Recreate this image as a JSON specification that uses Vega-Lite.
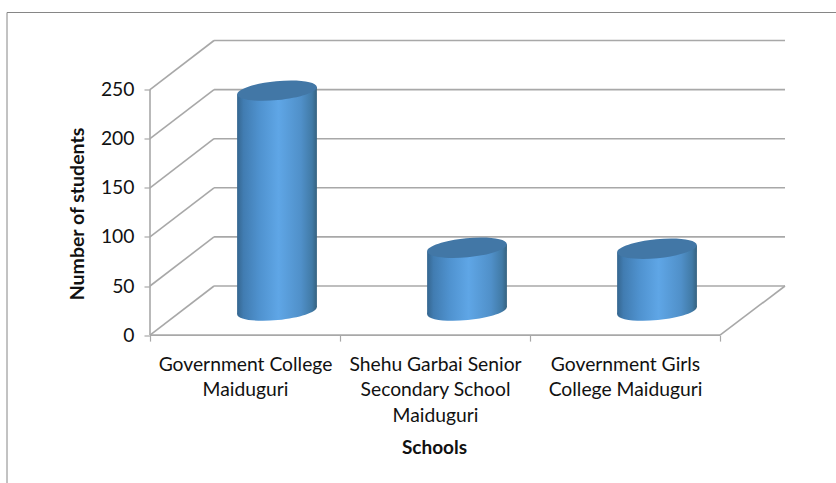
{
  "$schema": "https://vega.github.io/schema/vega-lite/v6.json",
  "width": 635,
  "height": 294.6,
  "autosize": {"type": "none"},
  "padding": {"left": 150, "top": 40.5, "right": 51, "bottom": 147.9},
  "background": "white",
  "config": {"view": {"stroke": null}, "font": "Lato"},
  "datasets": {
    "schools": [
      {"school": "Government College Maiduguri", "slot": 0.5, "students": 224},
      {"school": "Shehu Garbai Senior Secondary School Maiduguri", "slot": 1.5, "students": 64},
      {"school": "Government Girls College Maiduguri", "slot": 2.5, "students": 63}
    ],
    "cylinderSides": [
      {"school": "Government College Maiduguri", "edge": 0.29, "top": 220.4, "base": -3.6},
      {"school": "Government College Maiduguri", "edge": 0.71, "top": 227.6, "base": 3.6},
      {"school": "Shehu Garbai Senior Secondary School Maiduguri", "edge": 1.29, "top": 60.4, "base": -3.6},
      {"school": "Shehu Garbai Senior Secondary School Maiduguri", "edge": 1.71, "top": 67.6, "base": 3.6},
      {"school": "Government Girls College Maiduguri", "edge": 2.29, "top": 59.4, "base": -3.6},
      {"school": "Government Girls College Maiduguri", "edge": 2.71, "top": 66.6, "base": 3.6}
    ],
    "wallLines": [
      {"x": 0, "y": 0, "xEnd": 0.337, "yEnd": 50},
      {"x": 0, "y": 50, "xEnd": 0.337, "yEnd": 100},
      {"x": 0, "y": 100, "xEnd": 0.337, "yEnd": 150},
      {"x": 0, "y": 150, "xEnd": 0.337, "yEnd": 200},
      {"x": 0, "y": 200, "xEnd": 0.337, "yEnd": 250},
      {"x": 0, "y": 250, "xEnd": 0.337, "yEnd": 300},
      {"x": 0.337, "y": 50, "xEnd": 3.342, "yEnd": 50},
      {"x": 0.337, "y": 100, "xEnd": 3.342, "yEnd": 100},
      {"x": 0.337, "y": 150, "xEnd": 3.342, "yEnd": 150},
      {"x": 0.337, "y": 200, "xEnd": 3.342, "yEnd": 200},
      {"x": 0.337, "y": 250, "xEnd": 3.342, "yEnd": 250},
      {"x": 0.337, "y": 300, "xEnd": 3.342, "yEnd": 300},
      {"x": 3, "y": 0, "xEnd": 3.342, "yEnd": 50},
      {"x": 0, "y": 0, "xEnd": 3, "yEnd": 0},
      {"x": 0, "y": 0, "xEnd": 0, "yEnd": 250}
    ],
    "frameLines": [
      {"x": -0.7526, "y": 328.5, "xEnd": -0.7526, "yEnd": -151},
      {"x": -0.7526, "y": 328.5, "xEnd": 3.611, "yEnd": 328.5}
    ]
  },
  "layer": [
    {
      "data": {"name": "frameLines"},
      "mark": {"type": "rule", "stroke": "#868686", "strokeWidth": 1},
      "encoding": {
        "x": {
          "field": "x",
          "type": "quantitative",
          "scale": {"domain": [0, 3.342], "nice": false, "zero": false},
          "axis": {
            "values": [0, 0.5, 1, 1.5, 2, 2.5, 3],
            "domain": false,
            "grid": false,
            "title": "Schools",
            "titleFont": "Lato",
            "titleFontSize": 19,
            "titleFontWeight": "bold",
            "titleColor": "#111111",
            "titleX": 284,
            "titleY": 118,
            "titleBaseline": "alphabetic",
            "tickSize": 6,
            "tickWidth": 1.2,
            "tickColor": "#a8a8a8",
            "tickOpacity": {"condition": {"test": "datum.value % 1 == 0", "value": 1}, "value": 0},
            "labelFont": "Lato",
            "labelFontSize": 19.3,
            "labelColor": "#111111",
            "labelPadding": 14,
            "labelLineHeight": 25.5,
            "labelOverlap": false,
            "labelBound": false,
            "labelFlush": false,
            "labelExpr": "datum.value == 0.5 ? ['Government College', 'Maiduguri'] : datum.value == 1.5 ? ['Shehu Garbai Senior', 'Secondary School', 'Maiduguri'] : datum.value == 2.5 ? ['Government Girls', 'College Maiduguri'] : ''"
          }
        },
        "y": {
          "field": "y",
          "type": "quantitative",
          "scale": {"domain": [0, 300], "nice": false, "zero": false},
          "axis": {
            "values": [0, 50, 100, 150, 200, 250],
            "domain": false,
            "grid": false,
            "title": "Number of students",
            "titleFont": "Lato",
            "titleFontSize": 19.5,
            "titleFontWeight": "bold",
            "titleColor": "#111111",
            "titleX": -63,
            "titleY": 173,
            "tickSize": 6,
            "tickWidth": 1.2,
            "tickColor": "#a8a8a8",
            "labelFont": "Lato",
            "labelFontSize": 19.3,
            "labelColor": "#111111",
            "labelPadding": 10
          }
        },
        "x2": {"field": "xEnd"},
        "y2": {"field": "yEnd"}
      }
    },
    {
      "data": {"name": "wallLines"},
      "mark": {"type": "rule", "stroke": "#a8a8a8", "strokeWidth": 1.6},
      "encoding": {
        "x": {"field": "x", "type": "quantitative"},
        "y": {"field": "y", "type": "quantitative"},
        "x2": {"field": "xEnd"},
        "y2": {"field": "yEnd"}
      }
    },
    {
      "data": {"name": "schools"},
      "mark": {
        "type": "point",
        "filled": true,
        "opacity": 1,
        "size": 6400,
        "xOffset": 32,
        "yOffset": -24.5,
        "shape": "M-0.9954,0.0958A1,0.2375,-5.5,0,0,0.9954,-0.0958A1,0.2375,-5.5,0,0,-0.9954,0.0958Z",
        "fill": {
          "gradient": "linear", "x1": 0, "y1": 0, "x2": 1, "y2": 0,
          "stops": [
            {"offset": 0, "color": "#35668f"},
            {"offset": 0.08, "color": "#417cb1"},
            {"offset": 0.28, "color": "#4f92cf"},
            {"offset": 0.52, "color": "#5fa6e6"},
            {"offset": 0.8, "color": "#5090c9"},
            {"offset": 0.94, "color": "#417aa6"},
            {"offset": 1, "color": "#36627f"}
          ]
        }
      },
      "encoding": {
        "x": {"field": "slot", "type": "quantitative"},
        "y": {"datum": 0, "type": "quantitative"}
      }
    },
    {
      "data": {"name": "cylinderSides"},
      "mark": {
        "type": "area",
        "orient": "vertical",
        "opacity": 1,
        "xOffset": 32,
        "x2Offset": 32,
        "yOffset": -24.5,
        "y2Offset": -24.5,
        "fill": {
          "gradient": "linear", "x1": 0, "y1": 0, "x2": 1, "y2": 0,
          "stops": [
            {"offset": 0, "color": "#35668f"},
            {"offset": 0.08, "color": "#417cb1"},
            {"offset": 0.28, "color": "#4f92cf"},
            {"offset": 0.52, "color": "#5fa6e6"},
            {"offset": 0.8, "color": "#5090c9"},
            {"offset": 0.94, "color": "#417aa6"},
            {"offset": 1, "color": "#36627f"}
          ]
        }
      },
      "encoding": {
        "x": {"field": "edge", "type": "quantitative"},
        "y": {"field": "top", "type": "quantitative"},
        "y2": {"field": "base"},
        "detail": {"field": "school"}
      }
    },
    {
      "data": {"name": "schools"},
      "mark": {
        "type": "point",
        "filled": true,
        "opacity": 1,
        "size": 6400,
        "xOffset": 32,
        "yOffset": -24.5,
        "shape": "M-0.9954,0.0958A1,0.2375,-5.5,0,1,0.9954,-0.0958A1,0.2375,-5.5,0,1,-0.9954,0.0958Z",
        "fill": "#4277a6"
      },
      "encoding": {
        "x": {"field": "slot", "type": "quantitative"},
        "y": {"field": "students", "type": "quantitative"}
      }
    }
  ]
}
